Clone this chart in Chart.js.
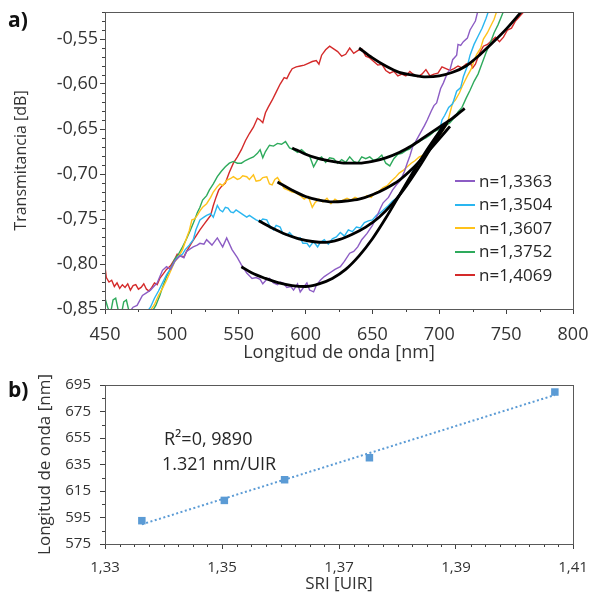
<!DOCTYPE html>
<html>
<head>
<meta charset="utf-8">
<script src="https://cdn.jsdelivr.net/npm/chart.js@4.4.1/dist/chart.umd.min.js"></script>
<style>
  body { margin: 0; background: #fff; font-family: 'Open Sans', sans-serif; }
  #wrap { position: relative; width: 593px; height: 594px; overflow: hidden; background: #fff; }
  #topChart { position: absolute; left: 0; top: 0; }
  #botChart { position: absolute; left: 0; top: 365px; }
  .txt { position: absolute; color: #262626; white-space: nowrap; }
  .panel { font-weight: bold; font-size: 21px; line-height: 24px; color: #111; }
  .leg { position: absolute; left: 455px; font-size: 17px; line-height: 20px; color: #262626; white-space: nowrap; }
  .leg span { display: inline-block; width: 20px; height: 2px; vertical-align: middle; margin-right: 4px; position: relative; top: -1px; }
  .note { font-size: 18px; line-height: 22px; }
</style>
</head>
<body>
<div id="wrap">
  <canvas id="topChart" width="593" height="365"></canvas>
  <canvas id="botChart" width="593" height="229"></canvas>
  <div class="txt panel" style="left:8px;top:7px;">a)</div>
  <div class="txt panel" style="left:8px;top:377px;">b)</div>
  <div class="txt note" style="left:164px;top:427px;">R²=0, 9890</div>
  <div class="txt note" style="left:162px;top:452px;">1.321 nm/UIR</div>
  <div id="legend"></div>
</div>
<script>
// ---- panel a) : espectros de transmitancia (longitud de onda [nm], transmitancia [dB]) ----
const seriesLabels = ['n=1,3363', 'n=1,3504', 'n=1,3607', 'n=1,3752', 'n=1,4069'];
const seriesColors = ['#8c5cc4', '#2ab6f0', '#ffc21a', '#2eaa5c', '#d42a2a'];

const spec13363 = [[450,-0.875],[460,-0.868],[466,-0.858],[471,-0.848],[474,-0.846],[478,-0.835],[481,-0.832],[484,-0.829],[489,-0.821],[493,-0.807],[496,-0.803],[499,-0.806],[502,-0.797],[506,-0.791],[509,-0.793],[511,-0.786],[514,-0.783],[516,-0.781],[519,-0.779],[521,-0.777],[524,-0.778],[526,-0.773],[530,-0.779],[534,-0.771],[538,-0.781],[541,-0.771],[545,-0.784],[549,-0.793],[552,-0.801],[556,-0.810],[560,-0.816],[563,-0.815],[566,-0.817],[568,-0.822],[571,-0.817],[573,-0.816],[576,-0.821],[579,-0.823],[581,-0.820],[583,-0.821],[586,-0.826],[589,-0.825],[591,-0.829],[594,-0.822],[596,-0.831],[599,-0.825],[601,-0.821],[603,-0.829],[606,-0.831],[608,-0.824],[611,-0.818],[614,-0.814],[618,-0.810],[622,-0.806],[626,-0.803],[629,-0.797],[633,-0.788],[636,-0.786],[639,-0.781],[642,-0.773],[646,-0.766],[650,-0.757],[653,-0.748],[656,-0.738],[658,-0.732],[662,-0.726],[665,-0.718],[668,-0.712],[671,-0.707],[674,-0.697],[676,-0.688],[678,-0.680],[680,-0.670],[683,-0.662],[686,-0.654],[689,-0.646],[691,-0.640],[694,-0.630],[696,-0.624],[698,-0.621],[701,-0.605],[703,-0.599],[706,-0.588],[708,-0.584],[710,-0.573],[713,-0.568],[714,-0.556],[716,-0.557],[718,-0.553],[721,-0.549],[723,-0.540],[725,-0.535],[727,-0.530],[729,-0.518],[732,-0.505]];

const spec13504 = [[450,-0.880],[470,-0.870],[480,-0.856],[484,-0.848],[487,-0.838],[490,-0.830],[493,-0.821],[496,-0.812],[500,-0.803],[503,-0.795],[505,-0.792],[508,-0.789],[510,-0.784],[513,-0.779],[516,-0.773],[518,-0.762],[521,-0.751],[524,-0.748],[526,-0.746],[529,-0.744],[531,-0.748],[534,-0.735],[536,-0.740],[538,-0.742],[540,-0.737],[542,-0.738],[544,-0.742],[546,-0.743],[548,-0.740],[551,-0.743],[554,-0.746],[556,-0.748],[558,-0.746],[561,-0.749],[563,-0.751],[566,-0.753],[568,-0.750],[571,-0.751],[573,-0.757],[576,-0.762],[578,-0.757],[581,-0.759],[583,-0.766],[586,-0.768],[588,-0.765],[591,-0.770],[593,-0.772],[596,-0.771],[598,-0.777],[601,-0.777],[603,-0.781],[606,-0.775],[609,-0.781],[611,-0.776],[614,-0.773],[617,-0.778],[620,-0.772],[623,-0.770],[626,-0.765],[629,-0.769],[632,-0.762],[635,-0.764],[638,-0.759],[641,-0.760],[644,-0.754],[647,-0.752],[650,-0.751],[653,-0.746],[656,-0.743],[659,-0.739],[662,-0.735],[665,-0.730],[668,-0.727],[671,-0.721],[674,-0.716],[676,-0.712],[679,-0.701],[681,-0.694],[684,-0.688],[688,-0.681],[691,-0.675],[694,-0.668],[697,-0.659],[700,-0.653],[702,-0.640],[704,-0.635],[707,-0.626],[710,-0.622],[713,-0.608],[716,-0.604],[718,-0.592],[721,-0.580],[723,-0.568],[726,-0.556],[729,-0.547],[732,-0.538],[735,-0.527],[737,-0.518],[740,-0.510]];

const spec13607 = [[450,-0.885],[470,-0.872],[482,-0.856],[487,-0.845],[490,-0.835],[493,-0.827],[496,-0.818],[499,-0.808],[502,-0.798],[505,-0.792],[508,-0.784],[511,-0.771],[513,-0.763],[515,-0.751],[517,-0.750],[519,-0.746],[521,-0.741],[523,-0.737],[526,-0.733],[529,-0.726],[531,-0.720],[534,-0.714],[536,-0.711],[538,-0.713],[541,-0.707],[544,-0.705],[546,-0.703],[549,-0.706],[551,-0.705],[553,-0.702],[556,-0.703],[558,-0.706],[561,-0.701],[563,-0.708],[566,-0.707],[568,-0.704],[571,-0.703],[573,-0.711],[575,-0.712],[577,-0.706],[579,-0.704],[582,-0.711],[584,-0.716],[587,-0.718],[590,-0.720],[593,-0.721],[596,-0.724],[599,-0.728],[602,-0.725],[605,-0.737],[607,-0.732],[610,-0.728],[613,-0.731],[616,-0.727],[619,-0.733],[622,-0.728],[625,-0.731],[628,-0.729],[631,-0.727],[634,-0.729],[637,-0.726],[640,-0.728],[643,-0.727],[646,-0.724],[649,-0.726],[652,-0.721],[655,-0.719],[658,-0.715],[661,-0.713],[664,-0.708],[667,-0.704],[670,-0.699],[673,-0.696],[676,-0.692],[679,-0.688],[682,-0.685],[685,-0.681],[688,-0.679],[691,-0.676],[694,-0.670],[697,-0.664],[700,-0.658],[703,-0.651],[706,-0.644],[708,-0.632],[710,-0.621],[712,-0.618],[715,-0.610],[717,-0.603],[719,-0.597],[721,-0.591],[724,-0.583],[726,-0.574],[728,-0.567],[731,-0.560],[733,-0.550],[736,-0.543],[738,-0.537],[741,-0.528],[743,-0.519],[746,-0.510]];

const spec13752 = [[450,-0.838],[452,-0.848],[454,-0.856],[456,-0.840],[458,-0.838],[460,-0.852],[462,-0.858],[464,-0.842],[466,-0.840],[468,-0.853],[472,-0.862],[478,-0.860],[484,-0.856],[488,-0.846],[491,-0.835],[493,-0.826],[496,-0.814],[499,-0.805],[502,-0.795],[505,-0.789],[508,-0.781],[511,-0.772],[514,-0.762],[517,-0.751],[519,-0.743],[521,-0.737],[523,-0.729],[526,-0.724],[528,-0.718],[531,-0.711],[534,-0.703],[537,-0.697],[540,-0.692],[543,-0.688],[546,-0.686],[549,-0.688],[552,-0.688],[555,-0.685],[558,-0.683],[561,-0.681],[564,-0.677],[566,-0.673],[568,-0.682],[570,-0.675],[573,-0.668],[576,-0.669],[579,-0.666],[582,-0.667],[585,-0.664],[588,-0.671],[591,-0.673],[594,-0.676],[597,-0.673],[600,-0.677],[603,-0.680],[606,-0.692],[609,-0.684],[612,-0.681],[615,-0.687],[618,-0.682],[621,-0.683],[624,-0.688],[627,-0.684],[630,-0.687],[633,-0.681],[636,-0.686],[639,-0.688],[642,-0.681],[645,-0.683],[648,-0.681],[651,-0.685],[654,-0.683],[657,-0.679],[660,-0.688],[663,-0.691],[666,-0.683],[669,-0.678],[672,-0.677],[675,-0.674],[678,-0.672],[681,-0.667],[684,-0.664],[687,-0.662],[690,-0.660],[693,-0.657],[696,-0.653],[699,-0.651],[702,-0.649],[705,-0.646],[708,-0.643],[711,-0.638],[714,-0.631],[717,-0.626],[720,-0.616],[723,-0.607],[726,-0.597],[729,-0.589],[732,-0.577],[735,-0.565],[738,-0.555],[741,-0.543],[744,-0.534],[747,-0.523],[750,-0.512]];

const spec14069 = [[450,-0.803],[451,-0.815],[453,-0.820],[455,-0.818],[457,-0.825],[459,-0.821],[461,-0.827],[463,-0.823],[465,-0.826],[467,-0.822],[469,-0.829],[471,-0.824],[473,-0.823],[475,-0.828],[477,-0.826],[479,-0.822],[481,-0.828],[483,-0.830],[485,-0.826],[487,-0.821],[489,-0.823],[491,-0.816],[493,-0.812],[496,-0.806],[499,-0.802],[502,-0.795],[504,-0.789],[507,-0.791],[509,-0.792],[511,-0.786],[513,-0.781],[515,-0.776],[518,-0.769],[521,-0.762],[524,-0.756],[527,-0.750],[529,-0.746],[531,-0.735],[533,-0.726],[535,-0.718],[537,-0.714],[540,-0.710],[543,-0.698],[546,-0.688],[549,-0.681],[552,-0.673],[555,-0.663],[558,-0.655],[561,-0.648],[564,-0.638],[566,-0.640],[568,-0.643],[570,-0.632],[572,-0.626],[575,-0.618],[578,-0.609],[581,-0.600],[584,-0.593],[586,-0.594],[588,-0.588],[590,-0.583],[593,-0.581],[596,-0.580],[599,-0.579],[602,-0.577],[605,-0.575],[608,-0.574],[610,-0.578],[612,-0.568],[615,-0.562],[618,-0.558],[621,-0.561],[624,-0.564],[627,-0.569],[630,-0.567],[633,-0.560],[636,-0.566],[639,-0.563],[642,-0.561],[645,-0.569],[648,-0.571],[651,-0.575],[654,-0.579],[657,-0.578],[660,-0.585],[663,-0.588],[666,-0.586],[669,-0.591],[672,-0.589],[675,-0.591],[678,-0.586],[681,-0.590],[684,-0.592],[687,-0.589],[690,-0.584],[693,-0.591],[696,-0.589],[699,-0.588],[702,-0.581],[705,-0.583],[708,-0.585],[711,-0.583],[714,-0.580],[717,-0.582],[720,-0.578],[723,-0.576],[725,-0.582],[727,-0.578],[730,-0.566],[733,-0.558],[736,-0.556],[739,-0.552],[742,-0.548],[745,-0.553],[748,-0.548],[751,-0.540],[754,-0.538],[757,-0.530],[760,-0.525],[763,-0.520],[766,-0.512]];

// ajustes polinómicos (curvas negras)
const fit13363 = [[552,-0.803],[560,-0.810],[570,-0.816],[580,-0.821],[590,-0.824],[600,-0.825],[610,-0.822],[620,-0.816],[630,-0.806],[640,-0.791],[650,-0.772],[660,-0.749],[670,-0.724],[680,-0.699],[690,-0.675],[700,-0.653],[704,-0.644]];
const fit13504 = [[565,-0.752],[575,-0.760],[585,-0.767],[595,-0.772],[605,-0.775],[615,-0.776],[625,-0.773],[635,-0.767],[645,-0.759],[655,-0.748],[665,-0.733],[675,-0.714],[685,-0.692],[695,-0.668],[706,-0.643]];
const fit13607 = [[579,-0.709],[590,-0.718],[600,-0.725],[610,-0.729],[620,-0.731],[630,-0.730],[640,-0.728],[650,-0.723],[660,-0.716],[670,-0.707],[680,-0.694],[690,-0.678],[700,-0.661],[708,-0.647]];
const fit13752 = [[590,-0.671],[600,-0.678],[610,-0.683],[620,-0.686],[630,-0.688],[640,-0.688],[650,-0.686],[660,-0.682],[670,-0.676],[680,-0.668],[690,-0.658],[700,-0.648],[710,-0.638],[719,-0.627]];
const fit14069 = [[640,-0.560],[650,-0.571],[660,-0.580],[670,-0.587],[680,-0.590],[690,-0.592],[700,-0.591],[710,-0.587],[720,-0.580],[730,-0.568],[740,-0.554],[750,-0.539],[760,-0.522],[765,-0.513]];

const topXTicks = [450, 500, 550, 600, 650, 700, 750, 800];
const topYTicks = [-0.85, -0.80, -0.75, -0.70, -0.65, -0.60, -0.55];

// ---- panel b) : longitud de onda del mínimo frente al SRI ----
const sriValues = [1.3363, 1.3504, 1.3607, 1.3752, 1.4069];
const peakWavelengths = [592.6, 607.9, 623.5, 640.1, 689.7];
const botXTicks = [1.33, 1.35, 1.37, 1.39, 1.41];
const botYTicks = [575, 595, 615, 635, 655, 675, 695];

const spectra = [spec13363, spec13504, spec13607, spec13752, spec14069];
const fits = [fit13363, fit13504, fit13607, fit13752, fit14069];

const FONT = 'Open Sans';
const TXT = '#333333';
const AXIS = '#404040';

const toPts = arr => arr.map(p => ({ x: p[0], y: p[1] }));

// marcas menores + marco del área de trazado
const minorTicks = {
  id: 'minorTicks',
  afterDraw(chart, args, opts) {
    const { ctx, chartArea: a, scales } = chart;
    ctx.save();
    ctx.strokeStyle = AXIS;
    ctx.lineWidth = 1;
    ctx.beginPath();
    (opts.x || []).forEach(v => {
      const px = Math.round(scales.x.getPixelForValue(v)) + 0.5;
      ctx.moveTo(px, a.bottom);
      ctx.lineTo(px, a.bottom + 3);
    });
    (opts.y || []).forEach(v => {
      const py = Math.round(scales.y.getPixelForValue(v)) + 0.5;
      ctx.moveTo(a.left - 3, py);
      ctx.lineTo(a.left, py);
    });
    ctx.stroke();
    ctx.strokeStyle = '#595959';
    ctx.strokeRect(Math.round(a.left) + 0.5, Math.round(a.top) + 0.5, Math.round(a.right - a.left), Math.round(a.bottom - a.top));
    ctx.restore();
  }
};

function steps(from, to, step, skipEvery) {
  const out = [];
  const n = Math.round((to - from) / step);
  for (let i = 0; i <= n; i++) {
    if (i % skipEvery !== 0) out.push(from + i * step);
  }
  return out;
}

// eje con tamaño fijo: así el área de trazado queda donde está en la figura
function axisBase(ticksArr, fontSize, pad, fmt, size) {
  return {
    type: 'linear',
    afterBuildTicks: s => { s.ticks = ticksArr.map(v => ({ value: v })); },
    afterFit: s => {
      if (s.isHorizontal()) s.height = size; else s.width = size;
      s.paddingLeft = 0; s.paddingRight = 0; s.paddingTop = 0; s.paddingBottom = 0;
    },
    grid: { drawOnChartArea: false, drawTicks: true, tickLength: 5, color: AXIS, tickColor: AXIS },
    border: { color: AXIS, width: 1 },
    ticks: { font: { family: FONT, size: fontSize }, color: TXT, padding: pad, maxRotation: 0, autoSkip: false, callback: fmt }
  };
}

// ---- gráfico a) ----
const topDatasets = [];
fits.forEach((f, i) => {
  topDatasets.push({ label: 'ajuste ' + seriesLabels[i], data: toPts(f), borderColor: '#000', borderWidth: 2.8, pointRadius: 0, cubicInterpolationMode: 'monotone', order: 0 });
});
spectra.forEach((s, i) => {
  topDatasets.push({ label: seriesLabels[i], data: toPts(s), borderColor: seriesColors[i], borderWidth: 1.4, pointRadius: 0, tension: 0, order: 1 });
});

const topX = axisBase(topXTicks, 18, 10, v => String(v), 56);
topX.min = 450; topX.max = 800;
topX.title = { display: true, text: 'Longitud de onda [nm]', font: { family: FONT, size: 18 }, color: TXT, padding: { top: 0, bottom: 1 } };

const topY = axisBase(topYTicks, 18, 2, v => v.toFixed(2).replace('.', ','), 105);
topY.min = -0.85; topY.max = -0.52;
topY.title = { display: true, text: 'Transmitancia [dB]', font: { family: FONT, size: 16 }, color: TXT, padding: { top: 12, bottom: 0 } };

new Chart(document.getElementById('topChart'), {
  type: 'line',
  data: { datasets: topDatasets },
  options: {
    responsive: false,
    animation: false,
    layout: { padding: { left: 0, right: 20, top: 12, bottom: 0 } },
    scales: { x: topX, y: topY },
    plugins: {
      legend: { display: false },
      tooltip: { enabled: false },
      minorTicks: { x: steps(450, 800, 25, 2), y: steps(-0.85, -0.52, 0.01, 5) }
    }
  },
  plugins: [minorTicks]
});

// leyenda (dentro del área de trazado)
const legendEl = document.getElementById('legend');
seriesLabels.forEach((lab, i) => {
  const d = document.createElement('div');
  d.className = 'leg';
  d.style.top = (171 + i * 23.4) + 'px';
  d.innerHTML = '<span style="background:' + seriesColors[i] + '"></span>' + lab;
  legendEl.appendChild(d);
});

// ---- gráfico b) ----
// línea de tendencia lineal por mínimos cuadrados
const mx = sriValues.reduce((a, b) => a + b, 0) / sriValues.length;
const my = peakWavelengths.reduce((a, b) => a + b, 0) / peakWavelengths.length;
let sxy = 0, sxx = 0;
sriValues.forEach((x, i) => { sxy += (x - mx) * (peakWavelengths[i] - my); sxx += (x - mx) * (x - mx); });
const slope = sxy / sxx;
const icpt = my - slope * mx;
const xFirst = sriValues[0], xLast = sriValues[sriValues.length - 1];

const botX = axisBase(botXTicks, 15, 10, v => v.toFixed(2).replace('.', ','), 50);
botX.min = 1.33; botX.max = 1.41;
botX.title = { display: true, text: 'SRI [UIR]', font: { family: FONT, size: 17 }, color: TXT, padding: { top: 0, bottom: 0 } };

const botY = axisBase(botYTicks, 15, 9, v => String(v), 105);
botY.min = 575; botY.max = 695;
botY.title = { display: true, text: 'Longitud de onda [nm]', font: { family: FONT, size: 17 }, color: TXT, padding: { top: 35, bottom: 0 } };

new Chart(document.getElementById('botChart'), {
  type: 'scatter',
  data: {
    datasets: [
      {
        label: 'Longitud de onda',
        data: sriValues.map((x, i) => ({ x: x, y: peakWavelengths[i] })),
        pointStyle: 'rect', pointRadius: 5.3, backgroundColor: '#5b9bd5', borderColor: '#5b9bd5', borderWidth: 0, order: 0
      },
      {
        type: 'line',
        label: 'Lineal',
        data: [{ x: xFirst, y: slope * xFirst + icpt }, { x: xLast, y: slope * xLast + icpt }],
        borderColor: '#5b9bd5', borderWidth: 2, borderDash: [2, 2.5], pointRadius: 0, order: 1
      }
    ]
  },
  options: {
    responsive: false,
    animation: false,
    layout: { padding: { left: 0, right: 20, top: 20, bottom: 0 } },
    scales: { x: botX, y: botY },
    plugins: {
      legend: { display: false },
      tooltip: { enabled: false },
      minorTicks: { x: steps(1.33, 1.41, 0.0025, 8), y: steps(575, 695, 10, 2) }
    }
  },
  plugins: [minorTicks]
});
</script>
</body>
</html>
